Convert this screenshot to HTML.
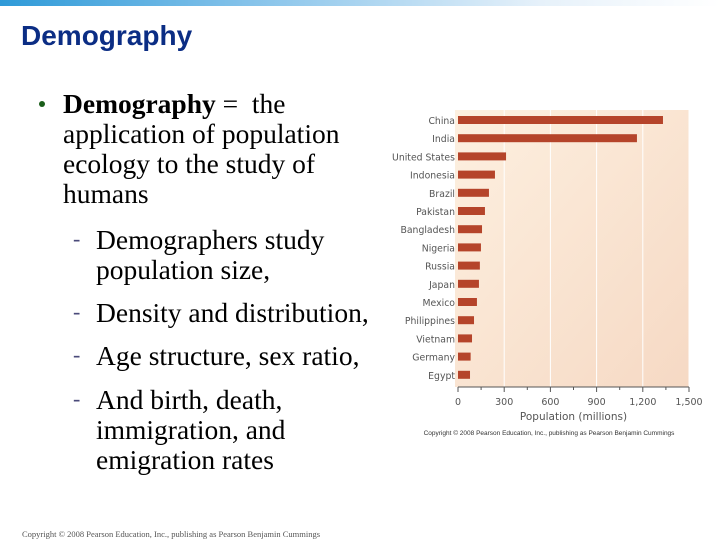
<!DOCTYPE html>
<html><head><meta charset="utf-8"><style>
body{margin:0;width:720px;height:540px;overflow:hidden;background:#fff;position:relative;font-family:"Liberation Serif",serif}
.t{position:absolute;white-space:nowrap;font-size:27.5px;line-height:30px;color:#000}
.d{position:absolute;font-size:22px;color:#4a4a7a}
</style></head><body>
<div style="position:absolute;left:0;top:0;width:720px;height:6px;background:linear-gradient(90deg,#2e9ad8,#86c3ea 35%,#e6f1fa 75%,#fff)"></div>
<div style="position:absolute;left:21px;top:20px;font:bold 28px 'Liberation Sans',sans-serif;color:#0b2d84">Demography</div>
<div style="position:absolute;left:39px;top:101px;width:6px;height:6px;border-radius:50%;background:#1a5e1a"></div>
<div class="t" style="left:63px;top:89px"><b>Demography</b> = &nbsp;the<br>application of population<br>ecology to the study of<br>humans</div>
<div class="d" style="left:73px;top:226px">-</div>
<div class="t" style="left:96px;top:225px">Demographers study<br>population size,</div>
<div class="d" style="left:73px;top:299px">-</div>
<div class="t" style="left:96px;top:298px">Density and distribution,</div>
<div class="d" style="left:73px;top:342px">-</div>
<div class="t" style="left:96px;top:341px">Age structure, sex ratio,</div>
<div class="d" style="left:73px;top:386px">-</div>
<div class="t" style="left:96px;top:385px">And birth, death,<br>immigration, and<br>emigration rates</div>
<div style="position:absolute;left:22px;top:529px;font-size:8.5px;color:#555">Copyright © 2008 Pearson Education, Inc., publishing as Pearson Benjamin Cummings</div>
<svg id="chart" width="720" height="540" style="position:absolute;left:0;top:0">
<defs><linearGradient id="bg" x1="0" y1="0" x2="1" y2="1"><stop offset="0" stop-color="#fdf0e0"/><stop offset="1" stop-color="#f6d9c4"/></linearGradient></defs>
</svg>
<script>
const countries=["China","India","United States","Indonesia","Brazil","Pakistan","Bangladesh","Nigeria","Russia","Japan","Mexico","Philippines","Vietnam","Germany","Egypt"];
const population=[1331,1162,312,240,201,175,156,149,142,136,123,104,91,82,78];
const ticks=[0,300,600,900,1200,1500];
const tickLabels=["0","300","600","900","1,200","1,500"];
const svg=document.getElementById('chart');const NS="http://www.w3.org/2000/svg";
const x0=458,x1=689,yTop=110,yAxis=387,row0=120,rowStep=18.2;
const xs=v=>x0+(v/1500)*(x1-x0);
const ys=i=>row0+i*rowStep;
function mk(t,a){const e=document.createElementNS(NS,t);for(const k in a)e.setAttribute(k,a[k]);svg.appendChild(e);return e;}
const bg=mk('rect',{x:x0-3,y:yTop,width:x1-x0+3,height:yAxis-yTop,fill:'url(#bg)'});


ticks.forEach((t,i)=>{
 if(i>0){const g=mk('line',{x1:xs(t),x2:xs(t),y1:yTop,y2:yAxis,stroke:'#fff','stroke-width':1});
 
 }
 const tk=mk('line',{x1:xs(t),x2:xs(t),y1:yAxis,y2:yAxis+5,stroke:'#555'});
 
 
 if(i<ticks.length-1){const m=mk('line',{x1:xs(t+150),x2:xs(t+150),y1:yAxis,y2:yAxis+3,stroke:'#555'});
 
 }
 const l=mk('text',{x:xs(t),y:405,'text-anchor':'middle','font-size':9.5,fill:'#555','font-family':'DejaVu Sans,sans-serif'});l.textContent=tickLabels[i];
 
 
});
const ax=mk('line',{x1:x0,x2:x1,y1:yAxis,y2:yAxis,stroke:'#555'});


countries.forEach((c,i)=>{
 const b=mk('rect',{x:x0,y:ys(i)-4,width:xs(population[i])-x0,height:8,fill:'#b5442a'});
 
 
 const l=mk('text',{x:455,y:ys(i)+4,'text-anchor':'end','font-size':9.3,fill:'#555','font-family':'DejaVu Sans,sans-serif'});l.textContent=c;
 
 
});
const at=mk('text',{x:xs(750),y:420,'text-anchor':'middle','font-size':10.5,fill:'#555','font-family':'DejaVu Sans,sans-serif'});at.textContent="Population (millions)";


const cp=mk('text',{x:549,y:435,'text-anchor':'middle','font-size':6.5,fill:'#333','font-family':'Liberation Sans,sans-serif'});cp.textContent="Copyright © 2008 Pearson Education, Inc., publishing as Pearson Benjamin Cummings";


</script>
</body></html>
